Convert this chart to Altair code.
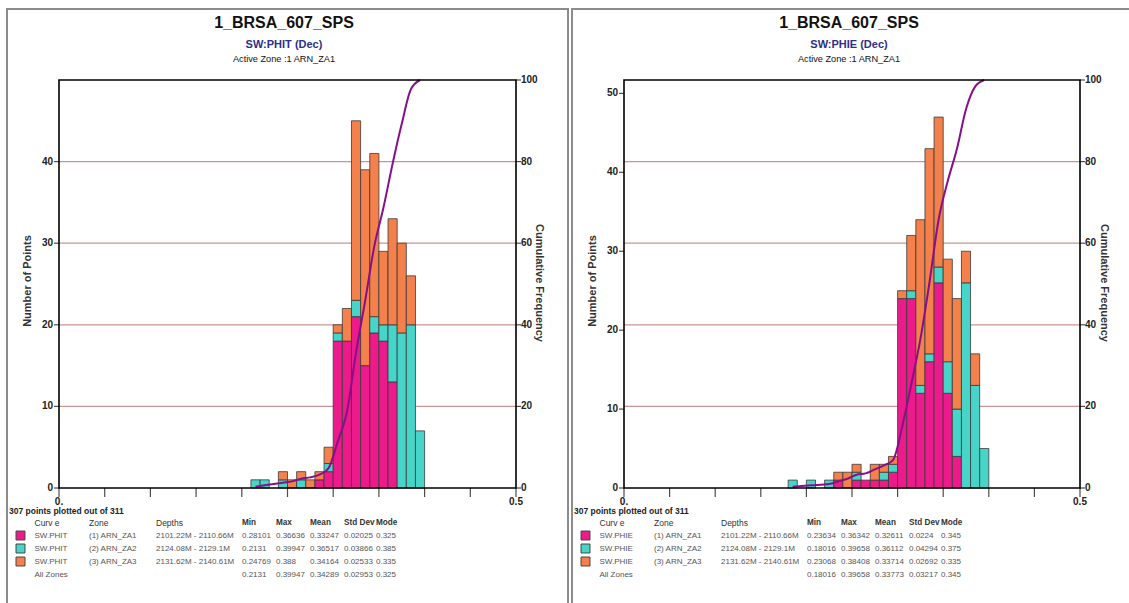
import altair as alt
import pandas as pd

FONT = "Liberation Sans, Arial, sans-serif"

# ---------------- data ----------------
well_name = "1_BRSA_607_SPS"
zones = ["(1) ARN_ZA1", "(2) ARN_ZA2", "(3) ARN_ZA3"]
zone_colors = ["#ec1a8a", "#46d5c8", "#f4804c"]
depths = ["2101.22M - 2110.66M", "2124.08M - 2129.1M", "2131.62M - 2140.61M"]

# left panel: SW:PHIT, histogram bin lower edges (bin width 0.01) and counts per zone
phit_bin_lo = [0.21, 0.22, 0.24, 0.25, 0.26, 0.27, 0.28, 0.29, 0.30, 0.31, 0.32, 0.33, 0.34, 0.35, 0.36, 0.37, 0.38, 0.39]
phit_za1 = [0, 0, 0, 0, 0, 0, 1, 2, 18, 18, 21, 15, 19, 18, 13, 0, 0, 0]
phit_za2 = [1, 1, 1, 0, 1, 0, 0, 1, 1, 0, 2, 0, 2, 2, 7, 19, 20, 7]
phit_za3 = [0, 0, 1, 1, 1, 1, 1, 2, 1, 4, 22, 24, 20, 9, 13, 11, 6, 0]

# right panel: SW:PHIE
phie_bin_lo = [0.18, 0.20, 0.22, 0.23, 0.24, 0.25, 0.26, 0.27, 0.28, 0.29, 0.30, 0.31, 0.32, 0.33, 0.34, 0.35, 0.36, 0.37, 0.38, 0.39]
phie_za1 = [0, 0, 0, 1, 0, 1, 1, 1, 1, 2, 24, 24, 12, 16, 26, 12, 4, 0, 0, 0]
phie_za2 = [1, 1, 1, 0, 0, 1, 0, 0, 1, 1, 0, 1, 1, 1, 2, 4, 6, 26, 13, 5]
phie_za3 = [0, 0, 0, 1, 2, 1, 0, 2, 1, 1, 1, 7, 21, 26, 19, 13, 14, 4, 4, 0]

# statistics tables: Min, Max, Mean, Std Dev, Mode
phit_stats = [["0.28101", "0.36636", "0.33247", "0.02025", "0.325"],
              ["0.2131", "0.39947", "0.36517", "0.03866", "0.385"],
              ["0.24769", "0.388", "0.34164", "0.02533", "0.335"]]
phit_all = ["0.2131", "0.39947", "0.34289", "0.02953", "0.325"]
phie_stats = [["0.23634", "0.36342", "0.32611", "0.0224", "0.345"],
              ["0.18016", "0.39658", "0.36112", "0.04294", "0.375"],
              ["0.23068", "0.38408", "0.33714", "0.02692", "0.335"]]
phie_all = ["0.18016", "0.39658", "0.33773", "0.03217", "0.345"]

table_header = ["Curv e", "Zone", "Depths", "Min", "Max", "Mean", "Std Dev", "Mode"]

count_ticks_left = [0, 10, 20, 30, 40]
count_ticks_right = [0, 10, 20, 30, 40, 50]
cum_ticks = [0, 20, 40, 60, 80, 100]
grid_vals = [20, 40, 60, 80]
x_tick_vals = [0, 0.05, 0.1, 0.15, 0.2, 0.25, 0.3, 0.35, 0.4, 0.45, 0.5]
x_tick_labels = ["0.", "", "", "", "", "", "", "", "", "", "0.5"]


def long_df(bins, a, b, c):
    rows = []
    for i, lo in enumerate(bins):
        for z, arr in enumerate([a, b, c]):
            if arr[i] > 0:
                rows.append({"lo": lo, "n": arr[i], "zone": zones[z], "z": z + 1})
    return pd.DataFrame(rows)


def txt(df, **kw):
    base = dict(font=FONT, fontSize=9, color="#333")
    base.update(kw)
    return alt.Chart(df).mark_text(**base).encode(
        x=alt.X("px:Q", scale=None, axis=None),
        y=alt.Y("py:Q", scale=None, axis=None),
        text="t:N",
    )


def panel(curve, bins, a, b, c, ymax, yticks, px0, px1, ox, stats, allstats):
    PT, PB = 80, 488
    xs = alt.Scale(domain=[0, 0.5], range=[px0, px1], nice=False, zero=False)
    ys = alt.Scale(domain=[0, ymax], range=[PB, PT], nice=False, zero=False)
    cs = alt.Scale(domain=[0, 100], range=[PB, PT], nice=False, zero=False)
    df = long_df(bins, a, b, c)
    layers = []

    # outer grey frame of the panel
    layers.append(alt.Chart(pd.DataFrame({"k": [0]})).mark_rect(
        fillOpacity=0, stroke="#8c8c8c", strokeWidth=2).encode(
        x=alt.value(7 + ox), x2=alt.value(568 + ox), y=alt.value(9), y2=alt.value(640)))

    # gridlines on cumulative scale
    gdf = pd.DataFrame({"g": grid_vals, "x0": 0.0, "x1": 0.5})
    layers.append(alt.Chart(gdf).mark_rule(color="#c99494", strokeWidth=1.2).encode(
        x=alt.X("x0:Q", scale=xs, axis=None), x2="x1:Q",
        y=alt.Y("g:Q", scale=cs, axis=None)))

    # stacked histogram bars
    layers.append(alt.Chart(df).transform_stack(
        stack="n", groupby=["lo"], as_=["s0", "s1"],
        sort=[alt.SortField("z", order="ascending")]
    ).transform_calculate(hi="datum.lo + 0.01").mark_bar(
        stroke="#3a3a3a", strokeWidth=0.8, opacity=1).encode(
        x=alt.X("lo:Q", scale=xs, axis=None), x2="hi:Q",
        y=alt.Y("s0:Q", scale=ys, axis=None), y2="s1:Q",
        color=alt.Color("zone:N", scale=alt.Scale(domain=zones, range=zone_colors), legend=None)))

    # cumulative frequency curve
    layers.append(alt.Chart(df).transform_aggregate(
        tot="sum(n)", groupby=["lo"]
    ).transform_window(
        cum="sum(tot)", sort=[alt.SortField("lo")], frame=[None, 0]
    ).transform_joinaggregate(grand="sum(tot)").transform_calculate(
        pct="100 * datum.cum / datum.grand", xc="datum.lo + 0.005"
    ).mark_line(color="#86108a", strokeWidth=2, interpolate="monotone").encode(
        x=alt.X("xc:Q", scale=xs, axis=None),
        y=alt.Y("pct:Q", scale=cs, axis=None), order="xc:Q"))

    # plot frame
    fdf = pd.DataFrame({"x0": [0.0], "x1": [0.5], "c0": [0], "c1": [100]})
    layers.append(alt.Chart(fdf).mark_rect(fillOpacity=0, stroke="black", strokeWidth=1.6).encode(
        x=alt.X("x0:Q", scale=xs, axis=None), x2="x1:Q",
        y=alt.Y("c0:Q", scale=cs, axis=None), y2="c1:Q"))

    # left count axis
    ldf = pd.DataFrame({"v": yticks, "x": 0.0})
    layers.append(alt.Chart(ldf).mark_tick(orient="horizontal", size=5, thickness=1.2,
                                           xOffset=-2.5, color="black").encode(
        x=alt.X("x:Q", scale=xs, axis=None), y=alt.Y("v:Q", scale=ys, axis=None)))
    layers.append(alt.Chart(ldf).mark_text(align="right", baseline="middle", dx=-6, font=FONT,
                                           fontSize=10, fontWeight="bold", color="#222").encode(
        x=alt.X("x:Q", scale=xs, axis=None), y=alt.Y("v:Q", scale=ys, axis=None), text="v:Q"))

    # right cumulative axis
    rdf = pd.DataFrame({"v": cum_ticks, "x": 0.5})
    layers.append(alt.Chart(rdf).mark_tick(orient="horizontal", size=5, thickness=1.2,
                                           xOffset=2.5, color="black").encode(
        x=alt.X("x:Q", scale=xs, axis=None), y=alt.Y("v:Q", scale=cs, axis=None)))
    layers.append(alt.Chart(rdf).mark_text(align="left", baseline="middle", dx=5, font=FONT,
                                           fontSize=10, fontWeight="bold", color="#222").encode(
        x=alt.X("x:Q", scale=xs, axis=None), y=alt.Y("v:Q", scale=cs, axis=None), text="v:Q"))

    # x axis ticks and labels
    xdf = pd.DataFrame({"v": x_tick_vals, "lab": x_tick_labels, "c": 0})
    layers.append(alt.Chart(xdf).mark_tick(orient="vertical", size=9, thickness=1.2,
                                           yOffset=4.5, color="black").encode(
        x=alt.X("v:Q", scale=xs, axis=None), y=alt.Y("c:Q", scale=cs, axis=None)))
    layers.append(alt.Chart(xdf).mark_text(baseline="middle", dy=14, font=FONT,
                                           fontSize=10, fontWeight="bold", color="#222").encode(
        x=alt.X("v:Q", scale=xs, axis=None), y=alt.Y("c:Q", scale=cs, axis=None), text="lab:N"))

    # titles
    cx = 284 + ox
    layers.append(txt(pd.DataFrame({"t": [well_name], "px": [cx], "py": [23]}),
                      fontSize=16, fontWeight="bold", color="#111", baseline="middle"))
    layers.append(txt(pd.DataFrame({"t": [curve + " (Dec)"], "px": [cx], "py": [45]}),
                      fontSize=11, fontWeight="bold", color="#2e2e8c", baseline="middle"))
    layers.append(txt(pd.DataFrame({"t": ["Active Zone :1  ARN_ZA1"], "px": [cx], "py": [59]}),
                      fontSize=9.2, color="#111", baseline="middle"))

    # axis titles
    layers.append(txt(pd.DataFrame({"t": ["Number of Points"], "px": [28 + ox], "py": [281]}),
                      fontSize=11, fontWeight="bold", color="#333", angle=270, baseline="middle"))
    layers.append(txt(pd.DataFrame({"t": ["Cumulative Frequency"], "px": [539 + ox], "py": [283]}),
                      fontSize=11, fontWeight="bold", color="#333", angle=90, baseline="middle"))

    # statistics table
    colx = [34.5, 89, 156, 242, 276, 310, 344, 376]
    rows_y = [535.5, 548.5, 561.5, 575]
    layers.append(txt(pd.DataFrame({"t": ["307 points plotted out of 311"], "px": [9 + ox], "py": [511]}),
                      fontSize=8.5, fontWeight="bold", color="#222", align="left", baseline="middle"))
    hdr = pd.DataFrame({"t": table_header, "px": [x + ox for x in colx], "py": 522.5})
    layers.append(txt(hdr.iloc[:3], fontSize=8.5, color="#333", align="left", baseline="middle"))
    layers.append(txt(hdr.iloc[3:], fontSize=8.2, fontWeight="bold", color="#333",
                      align="left", baseline="middle"))
    cells = []
    for r in range(3):
        vals = [curve.replace(":", "."), zones[r], depths[r]] + stats[r]
        for ci, v in enumerate(vals):
            cells.append({"t": v, "px": colx[ci] + ox, "py": rows_y[r]})
    cells.append({"t": "All Zones", "px": colx[0] + ox, "py": rows_y[3]})
    for ci, v in enumerate(allstats):
        cells.append({"t": v, "px": colx[3 + ci] + ox, "py": rows_y[3]})
    layers.append(txt(pd.DataFrame(cells), fontSize=8, color="#555",
                      align="left", baseline="middle"))
    sq = pd.DataFrame({"zone": zones, "px": 20.5 + ox, "py": rows_y[:3]})
    layers.append(alt.Chart(sq).mark_square(size=80, opacity=1, stroke="#444", strokeWidth=1).encode(
        x=alt.X("px:Q", scale=None, axis=None), y=alt.Y("py:Q", scale=None, axis=None),
        color=alt.Color("zone:N", scale=alt.Scale(domain=zones, range=zone_colors), legend=None)))
    return layers


left = panel("SW:PHIT", phit_bin_lo, phit_za1, phit_za2, phit_za3, 50, count_ticks_left,
             59, 516, 0, phit_stats, phit_all)
right = panel("SW:PHIE", phie_bin_lo, phie_za1, phie_za2, phie_za3, 51.7, count_ticks_right,
              624, 1080, 565, phie_stats, phie_all)

chart = alt.layer(*(left + right)).resolve_scale(
    x="independent", y="independent", color="independent"
).properties(
    width=1129, height=603, autosize=alt.AutoSizeParams(type="none"), padding=0,
    background="white"
).configure_view(stroke=None)

chart.save("out.html", embed_options={"renderer": "svg", "actions": False})
